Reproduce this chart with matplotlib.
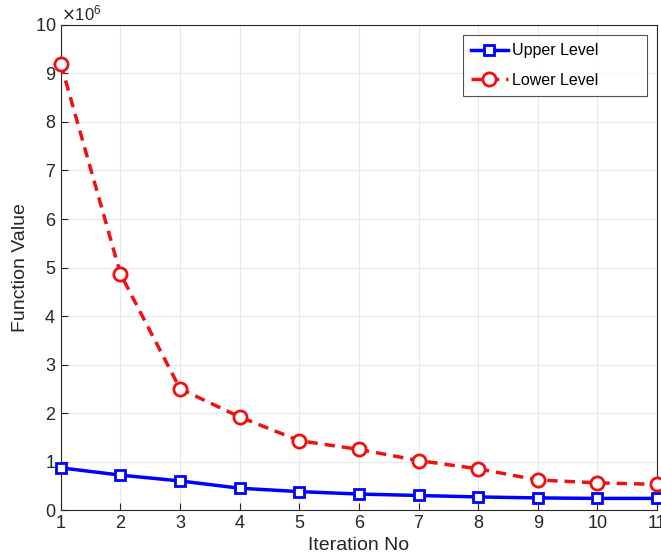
import matplotlib
matplotlib.use("Agg")
import matplotlib.pyplot as plt
from matplotlib.ticker import ScalarFormatter

iterations = [1, 2, 3, 4, 5, 6, 7, 8, 9, 10, 11]
upper_level = [0.87e6, 0.72e6, 0.60e6, 0.45e6, 0.38e6, 0.33e6, 0.30e6, 0.27e6, 0.25e6, 0.24e6, 0.24e6]
lower_level = [9.20e6, 4.87e6, 2.50e6, 1.92e6, 1.43e6, 1.25e6, 1.02e6, 0.85e6, 0.62e6, 0.56e6, 0.53e6]

plt.rcParams['font.family'] = ['Liberation Sans', 'DejaVu Sans']

fig = plt.figure(figsize=(6.61, 5.55), dpi=100)
ax = fig.add_axes([0.092, 0.081, 0.902, 0.874])

ax.plot(iterations, upper_level, '-s', color='#0000ff', lw=2.5, ms=7,
        mfc='white', mew=2, label='Upper Level', zorder=3, clip_on=False)
ax.plot(iterations, lower_level, '--o', color='#f01010', lw=2.5, ms=9.5,
        mfc='white', mew=2, label='Lower Level', zorder=3, clip_on=False,
        dashes=(3, 2))

ax.set_xlim(1, 11)
ax.set_ylim(0, 10e6)
ax.set_xticks(range(1, 12))
ax.set_yticks([i * 1e6 for i in range(11)])
fmt = ScalarFormatter(useMathText=True)
fmt.set_powerlimits((6, 6))
ax.yaxis.set_major_formatter(fmt)
ax.yaxis.get_offset_text().set_fontsize(12)
ax.yaxis.get_offset_text().set_color('#262626')

ax.grid(True, color='#e8e8e8', lw=0.8)
ax.set_axisbelow(True)
ax.tick_params(direction='in', length=5, labelsize=13, colors='#262626')
for s in ax.spines.values():
    s.set_color('#262626')
    s.set_linewidth(0.8)

ax.set_xlabel('Iteration No', fontsize=14, color='#262626')
ax.set_ylabel('Function Value', fontsize=14, color='#262626')

leg = ax.legend(loc='upper left', bbox_to_anchor=(0.6745, 0.80, 0.309, 0.179),
                mode='expand', borderaxespad=0, fontsize=11.5,
                frameon=True, fancybox=False, edgecolor='#262626',
                handlelength=2.3, handletextpad=0.25, borderpad=0.5,
                labelspacing=0.9)
leg.get_frame().set_linewidth(0.8)

fig.savefig('out.png', dpi=100)
